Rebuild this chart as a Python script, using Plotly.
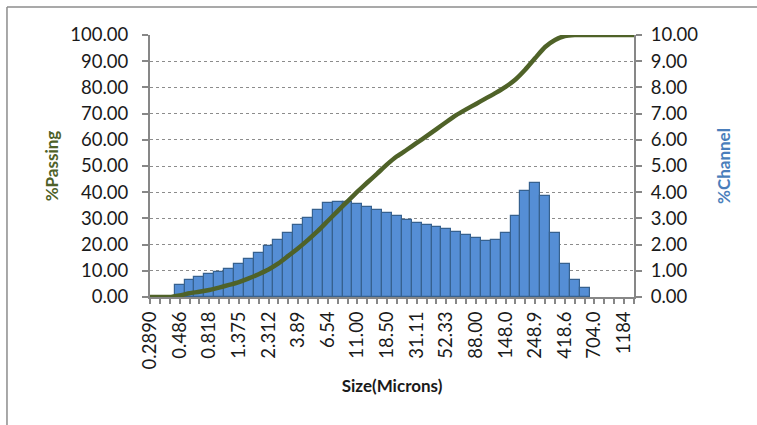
import plotly.graph_objects as go

sizes = ["0.2890","0.3437","0.4088","0.486","0.578","0.688","0.818","0.972","1.156","1.375",
         "1.635","1.945","2.312","2.750","3.27","3.89","4.62","5.50","6.54","7.78",
         "9.25","11.00","13.08","15.56","18.50","22.00","26.16","31.11","37.00","44.00",
         "52.33","62.23","74.00","88.00","104.7","124.5","148.0","176.0","209.3","248.9",
         "296.0","352.0","418.6","497.8","592.0","704.0","837.2","995.6","1184","1408"]

channel = [0,0,0,0.44,0.63,0.76,0.86,0.95,1.05,1.25,
           1.45,1.68,1.95,2.19,2.46,2.74,3.02,3.31,3.57,3.63,
           3.63,3.56,3.43,3.31,3.20,3.08,2.94,2.83,2.74,2.69,
           2.61,2.50,2.38,2.25,2.15,2.19,2.43,3.09,4.03,4.35,
           3.87,2.43,1.25,0.63,0.36,0,0,0,0,0]

passing = [0,0,0,0.6,1.4,2.0,2.7,3.6,4.6,5.7,
           7.1,8.7,10.5,12.8,15.7,18.6,21.8,25.2,29.0,32.8,
           36.5,40.2,43.7,47.1,50.6,53.7,56.2,58.8,61.4,64.1,
           66.8,69.4,71.6,73.7,75.8,77.9,80.2,83.0,86.8,91.2,
           95.4,98.1,99.6,100,100,100,100,100,100,100]

label_step = 3

idx = list(range(len(sizes)))
ticktext = [s if i % label_step == 0 else "" for i, s in enumerate(sizes)]
bar_x = [i for i, v in zip(idx, channel) if v > 0]
bar_y = [v for v in channel if v > 0]

FONT = "Lato"
GRID = "#8c8c8c"
AXIS = "#878787"

fig = go.Figure()
fig.add_trace(go.Bar(
    x=bar_x, y=bar_y, width=1, yaxis="y",
    marker=dict(color="#558ED5", line=dict(color="#36618F", width=1.2)),
    name="%Channel", showlegend=False))
fig.add_trace(go.Scatter(
    x=idx, y=passing, yaxis="y2", mode="lines",
    line=dict(color="#4F6228", width=4.5, shape="spline", smoothing=0.5),
    name="%Passing", showlegend=False))

fig.update_layout(
    width=757, height=425,
    margin=dict(l=150, r=123, t=35, b=128),
    paper_bgcolor="white", plot_bgcolor="white",
    font=dict(family=FONT, size=18, color="#1a1a1a"),
    bargap=0,
    xaxis=dict(
        range=[0, len(sizes) - 1], tickmode="array", tickvals=idx, ticktext=ticktext,
        tickangle=-90, ticks="outside", ticklen=5, tickcolor=AXIS, tickwidth=1.5,
        showline=True, linecolor=AXIS, linewidth=2, showgrid=False, zeroline=False,
        tickfont=dict(family=FONT, size=18.5, color="#1a1a1a"),
        automargin=False,
        title=dict(text="<b>Size(Microns)</b>", font=dict(family=FONT, size=17, color="#1a1a1a"),
                   standoff=12),
    ),
    yaxis=dict(
        side="right", range=[0, 10], dtick=1, tickformat=".2f",
        ticks="outside", ticklen=6, tickcolor=AXIS, tickwidth=1.5,
        showline=True, linecolor=AXIS, linewidth=2, showgrid=False, zeroline=False,
        tickfont=dict(family=FONT, size=18.5, color="#1a1a1a"),
        ticklabelstandoff=5, automargin=False,
        title=dict(text="<b>%Channel</b>", font=dict(family=FONT, size=17, color="#4A7EBB"),
                   standoff=21),
    ),
    yaxis2=dict(
        side="left", overlaying="y", range=[0, 100], dtick=10, tickformat=".2f",
        ticks="outside", ticklen=6, tickcolor=AXIS, tickwidth=1.5,
        showline=True, linecolor=AXIS, linewidth=2,
        showgrid=True, gridcolor=GRID, griddash="3px,3px", gridwidth=1, zeroline=False,
        tickfont=dict(family=FONT, size=18.5, color="#1a1a1a"),
        ticklabelstandoff=10, automargin=False,
        title=dict(text="<b>%Passing</b>", font=dict(family=FONT, size=17, color="#4F6228"),
                   standoff=7),
    ),
    shapes=[
        dict(type="line", xref="paper", yref="paper", x0=-0.2955, x1=-0.2955, y0=-0.6, y1=1.107,
             line=dict(color="#8c8c8c", width=1.5)),
        dict(type="line", xref="paper", yref="paper", x0=-0.2955, x1=1.4, y0=1.107, y1=1.107,
             line=dict(color="#8c8c8c", width=1.5)),
    ],
)

fig.write_html("out.html", config={"displayModeBar": False},
               post_script="document.body.style.margin='0px';")
